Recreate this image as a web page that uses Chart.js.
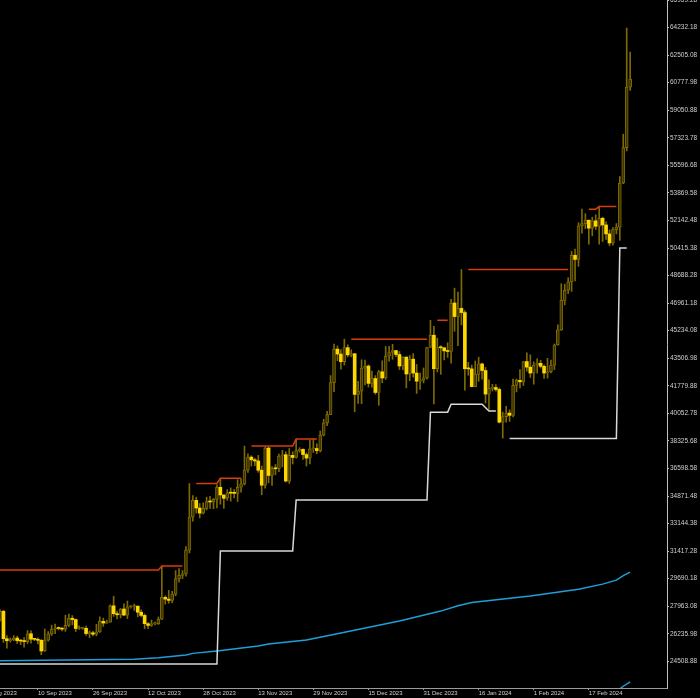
<!DOCTYPE html>
<html>
<head>
<meta charset="utf-8">
<script src="https://cdn.jsdelivr.net/npm/chart.js@4.4.1/dist/chart.umd.min.js"></script>
<style>
    html, body { margin: 0; padding: 0; background: #000; }
    #wrap { width: 700px; height: 698px; position: relative; }
</style>
</head>
<body>
<div id="wrap"><canvas id="priceChart"></canvas></div>
<script>
// day 0 = 30 Aug 2023, one candle per day up to 29 Feb 2024
const opens = [
    27100, 27650, 25930, 25800, 25870, 25970, 25810, 25780, 25750, 26240,
    25900, 25890, 25830, 25160, 25840, 26230, 26530, 26600, 26570, 26530,
    26760, 27210, 27130, 26570, 26580, 26580, 26250, 26300, 26210, 26360,
    27020, 26910, 26970, 27990, 27500, 27430, 27790, 27410, 27930, 27950,
    27970, 27590, 27390, 26870, 26760, 26860, 26870, 27160, 28520, 28410,
    28330, 28720, 29680, 29900, 29990, 31480, 33560, 34600, 34120, 33800,
    34100, 34530, 34500, 34660, 35420, 34940, 34730, 35080, 35050, 35040,
    35420, 35630, 36500, 37310, 37140, 37070, 36490, 35550, 37880, 36160,
    36590, 36580, 37380, 37460, 35810, 37420, 37290, 37720, 37800, 37470,
    37250, 37830, 37850, 37720, 38690, 39460, 39970, 41980, 44080, 43770,
    43290, 44170, 43720, 43790, 41240, 41450, 42890, 43020, 41930, 42240,
    41360, 42660, 42270, 43650, 43870, 43990, 43740, 43020, 43580, 42520,
    43450, 42580, 42070, 42140, 42280, 44180, 44950, 42850, 44180, 44160,
    43970, 43930, 46970, 46120, 46630, 46370, 42850, 42840, 41730, 42500,
    43150, 42740, 41260, 41620, 41670, 41550, 39500, 39850, 40070, 39930,
    41810, 42120, 42030, 43300, 42950, 42580, 43080, 43190, 43000, 42580,
    42660, 43080, 44340, 45290, 47130, 47770, 48290, 49960, 49700, 51800,
    51940, 52160, 51660, 52120, 51780, 52280, 51860, 51300, 50730, 51570,
    51730, 54490, 56710, 60500
];
const highs = [
    27760, 27700, 26130, 25980, 26120, 26090, 25880, 26000, 26440, 26430,
    25950, 25990, 25880, 26540, 26380, 26780, 26850, 26660, 26620, 27400,
    27480, 27380, 27160, 26730, 26640, 26720, 26420, 26390, 26830, 27300,
    27220, 27100, 28050, 28590, 27660, 27830, 28120, 28290, 28000, 28100,
    27990, 27740, 27480, 26940, 27100, 26970, 27290, 30480, 28620, 28960,
    28900, 30200, 30330, 30200, 31700, 35650, 34900, 34800, 34400, 34450,
    34800, 34860, 34720, 35570, 35980, 34940, 35270, 35380, 35280, 35900,
    35950, 38000, 37520, 37400, 37230, 37420, 36760, 37950, 37930, 36720,
    36850, 37500, 37740, 37650, 37850, 37650, 38420, 37900, 37830, 37580,
    38380, 38420, 38150, 38950, 39680, 40180, 42420, 44400, 44280, 44050,
    44700, 44350, 44030, 43800, 42060, 43410, 43400, 43090, 42700, 42420,
    42750, 43350, 44240, 44260, 44380, 44000, 43930, 43590, 43600, 43680,
    43800, 43120, 42580, 42900, 44190, 45890, 45500, 44770, 44300, 44200,
    44480, 47200, 47900, 47650, 49070, 46500, 43250, 43080, 43330, 43570,
    43200, 42930, 42160, 41870, 41860, 41650, 40130, 40500, 40270, 42200,
    42200, 42800, 43300, 43840, 43720, 43280, 43480, 43380, 43100, 43500,
    43400, 44400, 45600, 48180, 48150, 48550, 50200, 50350, 52000, 52850,
    52570, 52160, 52350, 52500, 53020, 52350, 52050, 51550, 51700, 51950,
    54900, 57550, 64200, 62700
];
const lows = [
    27030, 25700, 25330, 25720, 25800, 25630, 25560, 25400, 25630, 25650,
    25800, 25600, 24920, 25130, 25780, 26130, 26250, 26480, 26420, 26390,
    26680, 26800, 26380, 26510, 26520, 26130, 26000, 26100, 26110, 26330,
    26700, 26890, 26960, 27330, 27170, 27230, 27380, 27190, 27840, 27700,
    27300, 27300, 26560, 26560, 26700, 26800, 26820, 27120, 28100, 28150,
    28180, 28620, 29480, 29700, 29850, 31300, 33300, 33800, 33500, 33750,
    34000, 34100, 34080, 34120, 34360, 34100, 34600, 34550, 34750, 34530,
    35110, 35560, 36350, 36750, 36770, 36360, 34950, 35360, 35700, 35540,
    36200, 36400, 36700, 35750, 35660, 36880, 37250, 37620, 37160, 36750,
    36880, 37600, 37520, 37630, 38640, 39280, 39970, 41420, 43350, 42830,
    43080, 43590, 43600, 40150, 40680, 40660, 41830, 41700, 41690, 41250,
    40560, 41970, 42180, 43330, 43440, 43600, 42800, 42780, 41650, 42100,
    42320, 41300, 41560, 41960, 42200, 44180, 40650, 42650, 42500, 43400,
    43560, 43200, 45200, 44300, 45600, 41500, 42440, 41720, 41720, 42060,
    42200, 40700, 40300, 41450, 41450, 39450, 38500, 39500, 39550, 39830,
    41400, 41650, 41800, 42700, 42300, 41880, 42580, 42890, 42250, 42260,
    42580, 42800, 44320, 45250, 46850, 47560, 47700, 48360, 49270, 51340,
    51630, 50650, 51180, 51580, 50650, 50820, 50950, 50550, 50600, 51300,
    50900, 54450, 56500, 60300
];
const closes = [
    27650, 25930, 25800, 25870, 25970, 25810, 25780, 25750, 26240, 25900,
    25890, 25830, 25160, 25840, 26230, 26530, 26600, 26570, 26530, 26760,
    27210, 27130, 26570, 26580, 26580, 26250, 26300, 26210, 26360, 27020,
    26910, 26970, 27990, 27500, 27430, 27790, 27410, 27930, 27950, 27970,
    27590, 27390, 26870, 26760, 26860, 26870, 27160, 28520, 28410, 28330,
    28720, 29680, 29900, 29990, 31480, 33560, 34600, 34120, 33800, 34100,
    34530, 34500, 34660, 35420, 34940, 34730, 35080, 35050, 35040, 35420,
    35630, 36500, 37310, 37140, 37070, 36490, 35550, 37880, 36160, 36590,
    36580, 37380, 37460, 35810, 37420, 37290, 37720, 37800, 37470, 37250,
    37830, 37850, 37720, 38690, 39460, 39970, 41980, 44080, 43770, 43290,
    44170, 43720, 43790, 41240, 41450, 42890, 43020, 41930, 42240, 41360,
    42660, 42270, 43650, 43870, 43990, 43740, 43020, 43580, 42520, 43450,
    42580, 42070, 42140, 42280, 44180, 44950, 42850, 44180, 44160, 43970,
    43930, 46970, 46120, 46630, 46370, 42850, 42840, 41730, 42500, 43150,
    42740, 41260, 41620, 41670, 41550, 39500, 39850, 40070, 39930, 41810,
    42120, 42030, 43300, 42950, 42580, 43080, 43190, 43000, 42580, 42660,
    43080, 44340, 45290, 47130, 47770, 48290, 49960, 49700, 51800, 51940,
    52160, 51660, 52120, 51780, 52280, 51860, 51300, 50730, 51570, 51730,
    54490, 56710, 60500, 61000
];

// [day, price]; [day, null] breaks the line
const resistance = [
    [0, 30230], [46, 30230], [47, 30480], [53, 30480], [55, null],
    [57, 35660], [63, 35660], [64, 35980], [70, 35980], [71, null],
    [73, 38000], [85, 38000], [86, 38440], [92, 38440], [97, null],
    [102, 44700], [124, 44700], [125, null],
    [127, 45890], [130, 45890], [133, null],
    [136, 49070], [165, 49070], [168, null],
    [171, 52850], [173, 52850], [174, 53020], [179, 53020]
];
const support = [
    [0, 24340], [63, 24340], [64, 31420], [85, 31420], [86, 34617],
    [124, 34617], [125, 40130], [130, 40130], [131, 40630], [140, 40630],
    [142, 40200], [144, 40200], [146, null],
    [148, 38480], [179, 38480], [180, 50420], [182, 50420]
];
const maFast = [
    [0, 24550], [39, 24640], [46, 24740], [54, 24910], [56, 25010],
    [63, 25160], [75, 25470], [78, 25600], [89, 25850], [99, 26290],
    [116, 27040], [128, 27660], [133, 28000], [137, 28200], [154, 28600],
    [168, 29030], [175, 29350], [179, 29600], [181, 29880], [183, 30100]
];
const maSlow = [
    [178, 22450], [181, 22950], [183, 23230]
];

// the first label sits left of the plot and is only partly visible
const xTickDays = [-5, 11, 27, 43, 59, 75, 91, 107, 123, 139, 155, 171];
const xTickLabels = ['25 Aug 2023', '10 Sep 2023', '26 Sep 2023', '12 Oct 2023', '28 Oct 2023', '13 Nov 2023',
    '29 Nov 2023', '15 Dec 2023', '31 Dec 2023', '16 Jan 2024', '1 Feb 2024', '17 Feb 2024'];
const yTickValues = [24508.88, 26235.98, 27963.08, 29690.18, 31417.28, 33144.38, 34871.48,
    36598.58, 38325.68, 40052.78, 41779.88, 43506.98, 45234.08, 46961.18, 48688.28,
    50415.38, 52142.48, 53869.58, 55596.68, 57323.78, 59050.88, 60777.98, 62505.08,
    64232.18, 65959.28];

const bullFill = '#3f3400';
const bullEdge = '#7d6a00';
const bearFill = '#ffd700';
const wickColor = '#7d6a00';

const toPoints = arr => arr.map(p => ({ x: p[0], y: p[1] }));
const isBull = i => closes[i] >= opens[i];

const wicks = opens.map((_, i) => ({ x: i, y: [lows[i], highs[i]] }));
const bodies = opens.map((_, i) => ({ x: i, y: [opens[i], closes[i]] }));

const lineStyle = {
    type: 'line',
    pointRadius: 0,
    borderWidth: 1.5,
    tension: 0,
    spanGaps: false,
    order: -1
};

const ctx = document.getElementById('priceChart').getContext('2d');
const priceChart = new Chart(ctx, {
    type: 'bar',
    data: {
        datasets: [
            Object.assign({}, lineStyle, { label: 'resistance', data: toPoints(resistance), borderColor: '#d83c10' }),
            Object.assign({}, lineStyle, { label: 'support', data: toPoints(support), borderColor: '#d8d8d8' }),
            Object.assign({}, lineStyle, { label: 'ma', data: toPoints(maFast), borderColor: '#1e9fd8' }),
            Object.assign({}, lineStyle, { label: 'ma2', data: toPoints(maSlow), borderColor: '#1e9fd8' }),
            {
                label: 'bodies',
                data: bodies,
                grouped: false,
                barThickness: 3,
                minBarLength: 1,
                borderSkipped: false,
                borderWidth: c => isBull(c.dataIndex) ? 1 : 0,
                backgroundColor: c => isBull(c.dataIndex) ? bullFill : bearFill,
                borderColor: c => isBull(c.dataIndex) ? bullEdge : bearFill,
                order: 0
            },
            {
                label: 'wicks',
                data: wicks,
                grouped: false,
                barThickness: 1,
                borderWidth: 0,
                backgroundColor: wickColor,
                order: 1
            }
        ]
    },
    options: {
        responsive: true,
        maintainAspectRatio: false,
        animation: false,
        layout: { padding: 0 },
        plugins: {
            legend: { display: false },
            tooltip: { enabled: false }
        },
        scales: {
            x: {
                type: 'linear',
                min: 0,
                max: 193.7,
                offset: false,
                afterBuildTicks: s => { s.ticks = xTickDays.map(v => ({ value: v })); },
                afterFit: s => {
                    s.height = 10;
                    s.paddingLeft = 0;
                    s.paddingRight = 0;
                },
                ticks: {
                    autoSkip: false,
                    maxRotation: 0,
                    align: 'start',
                    padding: 0,
                    color: '#d0d0d0',
                    font: { family: 'Liberation Sans', size: 6 },
                    callback: (v, i) => xTickLabels[i]
                },
                grid: { drawOnChartArea: false, tickLength: 2, color: '#9a9a9a', offset: false },
                border: { color: '#9a9a9a', width: 1 }
            },
            y: {
                position: 'right',
                min: 22840,
                max: 65960,
                afterBuildTicks: s => { s.ticks = yTickValues.map(v => ({ value: v })); },
                afterFit: s => {
                    s.width = 33;
                    s.paddingTop = 0;
                    s.paddingBottom = 0;
                },
                ticks: {
                    padding: 1,
                    color: '#d0d0d0',
                    font: { family: 'Liberation Sans', size: 6.5 },
                    callback: v => v.toFixed(2)
                },
                grid: { drawOnChartArea: false, tickLength: 2, color: '#c0c0c0' },
                border: { color: '#c0c0c0', width: 1 }
            }
        }
    }
});
</script>
</body>
</html>
